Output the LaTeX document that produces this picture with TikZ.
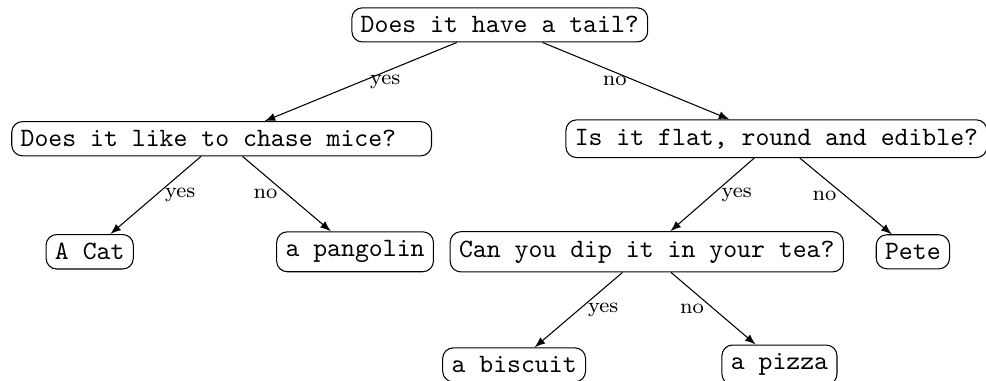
\documentclass[tikz,border=0pt]{standalone}
\tikzset{
  qbox/.style = {draw, rounded corners, font=\ttfamily},
  ans/.style = {font=\footnotesize, midway},
  >=latex
}
\begin{document}
\begin{tikzpicture}
                \useasboundingbox (0,0) rectangle (13.08,-5.05);
                \node[qbox] (tail) at (6.63,-0.33) {Does it have a tail?};
                \node[qbox] (mice) at (2.94,-1.84) {Does it like to chase mice?\hspace*{10pt}};
                \node[qbox] (flat) at (10.30,-1.84) {Is it flat, round and edible?};
                \node[qbox] (cat) at (1.19,-3.34) {A Cat};
                \node[qbox] (pangolin) at (4.71,-3.34) {a pangolin};
                \node[qbox] (tea) at (8.58,-3.34) {Can you dip it in your tea?};
                \node[qbox] (pete) at (12.11,-3.34) {Pete};
                \node[qbox] (biscuit) at (6.82,-4.84) {a biscuit};
                \node[qbox] (pizza) at (10.34,-4.84) {a pizza};
                \draw[->] (tail) -- node[ans, right] {yes} (mice);
                \draw[->] (tail) -- node[ans, left] {no} (flat);
                \draw[->] (mice) -- node[ans, right] {yes} (cat);
                \draw[->] (mice) -- node[ans, left] {no} (pangolin);
                \draw[->] (flat) -- node[ans, right] {yes} (tea);
                \draw[->] (flat) -- node[ans, left] {no} (pete);
                \draw[->] (tea) -- node[ans, right] {yes} (biscuit);
                \draw[->] (tea) -- node[ans, left] {no} (pizza);
            \end{tikzpicture}
\end{document}
